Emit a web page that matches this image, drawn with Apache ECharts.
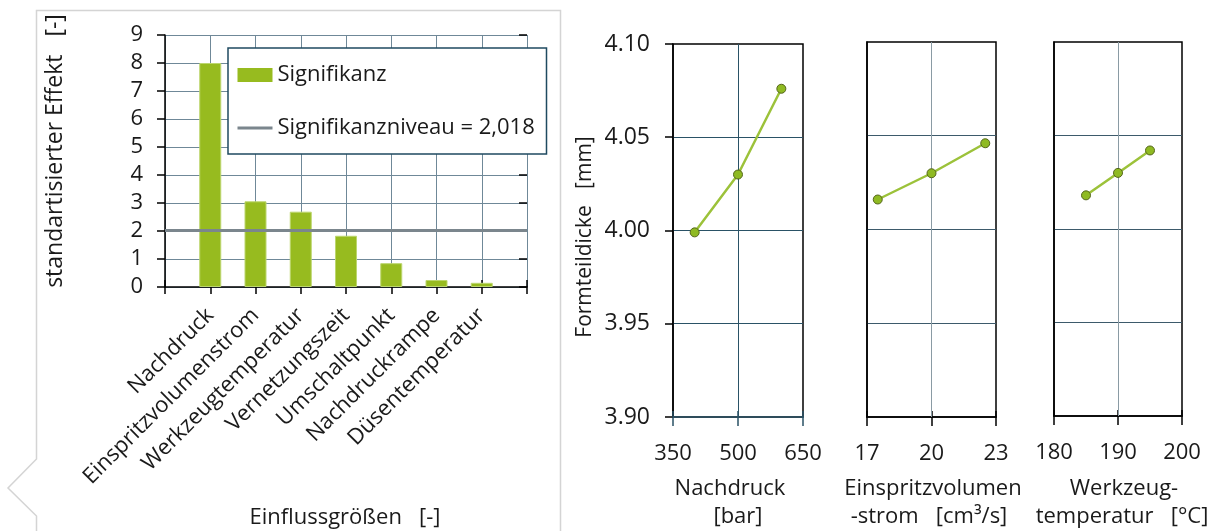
<!DOCTYPE html>
<html>
<head>
<meta charset="utf-8">
<script src="https://cdn.jsdelivr.net/npm/echarts@6/dist/echarts.min.js"></script>
<style>
  html, body { margin: 0; padding: 0; background: #fff; }
  #chart { width: 1216px; height: 531px; }
</style>
</head>
<body>
<div id="chart"></div>
<script>
// Pareto of standardized effects
const factors = ['Nachdruck', 'Einspritzvolumenstrom', 'Werkzeugtemperatur', 'Vernetzungszeit', 'Umschaltpunkt', 'Nachdruckrampe', 'Düsentemperatur'];
const effects = [8.0, 3.06, 2.69, 1.83, 0.85, 0.25, 0.15];
const significanceLevel = 2.018;
const significanceLabel = 'Signifikanzniveau = 2,018';

// Main effects on part thickness
const pressure = [400, 500, 600];
const pressureThickness = [3.999, 4.030, 4.076];
const flowRate = [17.5, 20, 22.5];
const flowThickness = [4.016, 4.030, 4.046];
const moldTemp = [185, 190, 195];
const moldThickness = [4.018, 4.030, 4.042];

const pressureTicks = [350, 500, 650];
const flowTicks = [17, 20, 23];
const moldTicks = [180, 190, 200];

const FONT = "'Open Sans', 'Noto Sans', sans-serif";
const TEXT = '#1a1a1a';
const GREEN = '#97bb1f';
const TEAL = '#2a5266';
const GRIDBLUE = '#6f8898';
const GRAY = '#8a9ba4';
const LEVEL_GRAY = '#7b868d';

// category slots: empty edge slots so bars sit on the inner ticks
const slots = [''].concat(factors, ['']);
const barData = ['-'].concat(effects, ['-']);
const levelData = slots.map(() => significanceLevel);

const chart = echarts.init(document.getElementById('chart'), null, { renderer: 'canvas' });

function panelX(grid, lo, hi, ticks, color) {
  return [
    {
      type: 'value', gridIndex: grid, min: lo, max: hi, position: 'bottom',
      axisLine: { show: true, lineStyle: { color: color, width: 1.5 } },
      axisTick: { show: true, customValues: ticks, length: 9, lineStyle: { color: color, width: 1.5 } },
      axisLabel: { show: true, customValues: ticks, fontSize: 22, color: TEXT, margin: 26, fontFamily: FONT },
      splitLine: { show: false }
    },
    {
      type: 'value', gridIndex: grid, min: lo, max: hi, position: 'bottom',
      axisLine: { show: false },
      axisTick: { show: true, inside: true, customValues: ticks, length: 6, lineStyle: { color: color, width: 1.5 } },
      axisLabel: { show: false },
      splitLine: { show: false }
    }
  ];
}

function panelY(grid, withLabels, splitColor) {
  return {
    type: 'value', gridIndex: grid, min: 3.90, max: 4.10, interval: 0.05,
    axisLine: { show: true, lineStyle: { color: '#000', width: 1.5 } },
    axisTick: { show: withLabels, length: 8, lineStyle: { color: '#000', width: 1.5 } },
    axisLabel: { show: withLabels, fontSize: 23, color: TEXT, margin: 23, fontFamily: FONT,
      formatter: v => v.toFixed(2) },
    splitLine: { show: true, showMinLine: false, showMaxLine: false, lineStyle: { color: splitColor, width: 1 } }
  };
}

function effectLine(name, xi, yi, xs, ys, mid, midColor) {
  return {
    name: name, type: 'line', xAxisIndex: xi, yAxisIndex: yi,
    data: xs.map((x, i) => [x, ys[i]]),
    symbol: 'circle', symbolSize: 9, z: 4,
    lineStyle: { color: '#9cc23a', width: 2.5 },
    itemStyle: { color: '#8fba22', borderColor: '#55661c', borderWidth: 1 },
    markLine: {
      silent: true, symbol: 'none', z: 1, label: { show: false },
      lineStyle: { color: midColor, width: 1, type: 'solid' },
      data: [{ xAxis: mid }]
    }
  };
}

const xAxes = [
  {
    type: 'category', gridIndex: 0, data: slots, boundaryGap: false,
    axisLine: { show: true, lineStyle: { color: '#000', width: 1.5 } },
    axisTick: { show: true, length: 7, interval: 0, lineStyle: { color: '#000', width: 1.5 } },
    axisLabel: { interval: 0, rotate: 45, fontSize: 22, color: TEXT, margin: 25, fontFamily: FONT },
    splitLine: { show: true, interval: 0, lineStyle: { color: GRIDBLUE, width: 1 } }
  },
  {
    type: 'category', gridIndex: 0, data: slots, boundaryGap: false, position: 'bottom',
    axisLine: { show: false },
    axisTick: { show: true, inside: true, length: 7, interval: 0, lineStyle: { color: '#000', width: 1.5 } },
    axisLabel: { show: false }, splitLine: { show: false }
  }
].concat(
  panelX(1, 350, 650, pressureTicks, TEAL),
  panelX(2, 17, 23, flowTicks, '#000'),
  panelX(3, 180, 200, moldTicks, '#000')
);

const yAxes = [
  {
    type: 'value', gridIndex: 0, min: 0, max: 9, interval: 1,
    axisLine: { show: true, lineStyle: { color: '#000', width: 1.5 } },
    axisTick: { show: true, length: 8, lineStyle: { color: '#000', width: 1.5 } },
    axisLabel: { fontSize: 22, color: TEXT, margin: 22, fontFamily: FONT },
    splitLine: { show: true, lineStyle: { color: GRIDBLUE, width: 1 } }
  },
  {
    type: 'value', gridIndex: 0, min: 0, max: 9, interval: 1,
    axisLine: { show: false },
    axisTick: { show: true, inside: true, length: 8, lineStyle: { color: '#000', width: 1.5 } },
    axisLabel: { show: false }, splitLine: { show: false }
  },
  panelY(1, true, TEAL),
  panelY(2, false, '#3d5a6b'),
  panelY(3, false, '#3d5a6b')
];

function label(text, x, y, rot, size) {
  return {
    type: 'text', x: x, y: y, rotation: rot || 0, z: 10,
    style: { text: text, font: (size || 22) + 'px ' + FONT, fill: TEXT, align: 'center', verticalAlign: 'middle' }
  };
}

chart.setOption({
  animation: false,
  backgroundColor: '#fff',
  textStyle: { fontFamily: FONT },
  grid: [
    { left: 165, top: 35, width: 362, height: 252, show: false },
    { left: 673, top: 44, width: 130, height: 373, show: true, borderColor: '#000', borderWidth: 1.5, backgroundColor: 'transparent' },
    { left: 867, top: 42, width: 129, height: 375, show: true, borderColor: '#000', borderWidth: 1.5, backgroundColor: 'transparent' },
    { left: 1054, top: 42, width: 128, height: 374, show: true, borderColor: '#000', borderWidth: 1.5, backgroundColor: 'transparent' }
  ],
  xAxis: xAxes,
  yAxis: yAxes,
  legend: {
    data: [
      { name: 'Signifikanz', icon: 'rect', itemStyle: { borderWidth: 0 } },
      { name: significanceLabel, itemStyle: { opacity: 0 }, lineStyle: { width: 3, color: LEVEL_GRAY } }
    ],
    orient: 'vertical', left: 228, top: 48,
    padding: [16, 7, 15, 8],
    itemWidth: 35, itemHeight: 14, itemGap: 31,
    backgroundColor: '#fff', borderColor: '#1f4a60', borderWidth: 1.5, borderRadius: 0,
    textStyle: { fontSize: 22, lineHeight: 22, color: TEXT, fontFamily: FONT, width: 262 }
  },
  series: [
    {
      name: 'Signifikanz', type: 'bar', xAxisIndex: 0, yAxisIndex: 0,
      data: barData, barWidth: 22, z: 2,
      itemStyle: { color: GREEN, borderColor: '#bcd66e', borderWidth: 1 }
    },
    {
      name: significanceLabel, type: 'line', xAxisIndex: 0, yAxisIndex: 0,
      data: levelData, symbol: 'none', z: 3,
      itemStyle: { color: LEVEL_GRAY },
      lineStyle: { color: LEVEL_GRAY, width: 3 }
    },
    effectLine('Nachdruck', 2, 2, pressure, pressureThickness, 500, TEAL),
    effectLine('Einspritzvolumenstrom', 4, 3, flowRate, flowThickness, 20, GRAY),
    effectLine('Werkzeugtemperatur', 6, 4, moldTemp, moldThickness, 190, GRAY)
  ],
  graphic: [
    {
      type: 'polyline', z: 0, silent: true,
      shape: { points: [[36.5, 531], [36.5, 516], [8, 488], [36.5, 459], [36.5, 10.5], [560.5, 10.5], [560.5, 531]] },
      style: { stroke: '#d4d4d4', lineWidth: 1.5, fill: null }
    },
    label('standartisierter Effekt   [-]', 55, 151, Math.PI / 2, 23),
    label('Einflussgrößen   [-]', 345, 518),
    label('Formteildicke   [mm]', 585, 237, Math.PI / 2, 21),
    label('Nachdruck', 730, 489),
    label('[bar]', 738, 517),
    label('Einspritzvolumen', 933, 489),
    label('-strom   [cm³/s]', 929, 517),
    label('Werkzeug-', 1124, 489),
    label('temperatur   [°C]', 1122, 517)
  ]
});
</script>
</body>
</html>
